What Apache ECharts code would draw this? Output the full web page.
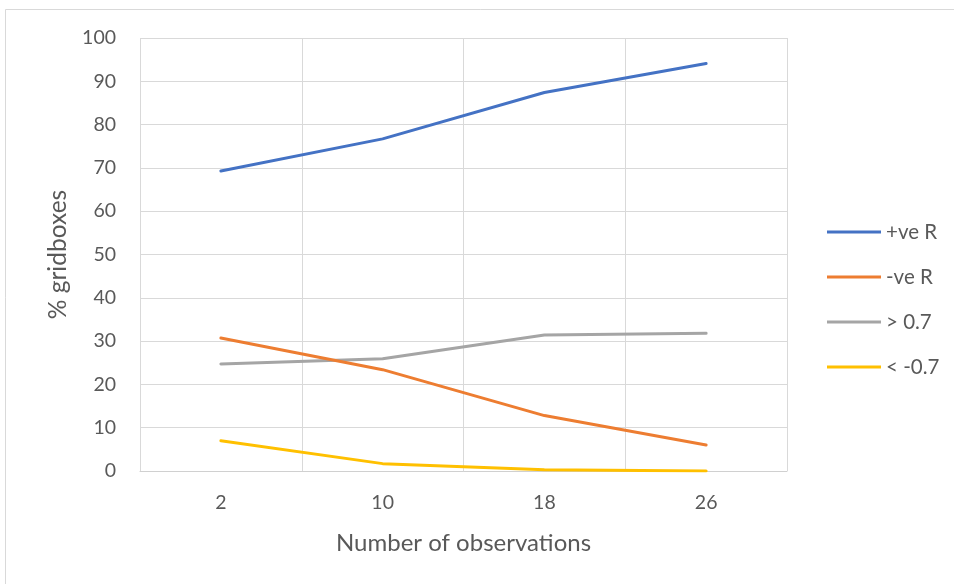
<!DOCTYPE html>
<html>
<head>
<meta charset="utf-8">
<script src="https://cdn.jsdelivr.net/npm/echarts@6/dist/echarts.min.js"></script>
<style>
  html, body { margin: 0; padding: 0; background: #ffffff; }
  #chart { width: 954px; height: 584px; }
</style>
</head>
<body>
<div id="chart"></div>
<script>
// Number of observations per gridbox
const categories = ['2', '10', '18', '26'];

// Share of gridboxes (%) for each correlation class
const positiveR = [69.3, 76.7, 87.4, 94.1];
const negativeR = [30.7, 23.4, 12.8, 6.0];
const above07 = [24.7, 25.9, 31.4, 31.8];
const belowMinus07 = [7.0, 1.7, 0.3, 0.0];

const seriesNames = ['+ve R', '-ve R', '> 0.7', '< -0.7'];
const seriesColors = ['#4472C4', '#ED7D31', '#A5A5A5', '#FFC000'];
const seriesValues = [positiveR, negativeR, above07, belowMinus07];

const fontFamily = 'Lato, "Open Sans", sans-serif';
const textColor = '#595959';
const gridColor = '#d9d9d9';

const chart = echarts.init(document.getElementById('chart'));

chart.setOption({
  backgroundColor: '#ffffff',
  animation: false,
  graphic: [{
    type: 'rect',
    shape: { x: 5.5, y: 9.5, width: 1000, height: 700 },
    style: { fill: 'none', stroke: '#d9d9d9', lineWidth: 1 },
    silent: true
  }],
  grid: { left: 140, right: 167, top: 38, bottom: 113 },
  legend: {
    orient: 'vertical',
    left: 827,
    top: 220,
    padding: 0,
    itemWidth: 54,
    itemHeight: 3,
    itemGap: 21,
    icon: 'rect',
    textStyle: { color: textColor, fontSize: 20.5, fontFamily: fontFamily, lineHeight: 24 },
    data: seriesNames
  },
  xAxis: {
    type: 'category',
    data: categories,
    boundaryGap: true,
    name: 'Number of observations',
    nameLocation: 'middle',
    nameGap: 60,
    nameTextStyle: { color: textColor, fontSize: 24, fontFamily: fontFamily },
    axisLine: { lineStyle: { color: '#d0d0d0', width: 1 } },
    axisTick: { show: false },
    axisLabel: { color: textColor, fontSize: 19.5, fontFamily: fontFamily, margin: 22 },
    splitLine: { show: true, lineStyle: { color: gridColor, width: 1 } }
  },
  yAxis: {
    type: 'value',
    min: 0,
    max: 100,
    interval: 10,
    name: '% gridboxes',
    nameLocation: 'middle',
    nameGap: 69,
    nameTextStyle: { color: textColor, fontSize: 24.5, fontFamily: fontFamily },
    axisLine: { show: false },
    axisTick: { show: false },
    axisLabel: { color: textColor, fontSize: 19.5, fontFamily: fontFamily, margin: 24 },
    splitLine: { show: true, lineStyle: { color: gridColor, width: 1 } }
  },
  series: seriesNames.map((name, i) => ({
    name: name,
    type: 'line',
    data: seriesValues[i],
    showSymbol: false,
    symbol: 'none',
    color: seriesColors[i],
    lineStyle: { color: seriesColors[i], width: 3, cap: 'round', join: 'round' },
    z: 10 - i
  }))
});
</script>
</body>
</html>
